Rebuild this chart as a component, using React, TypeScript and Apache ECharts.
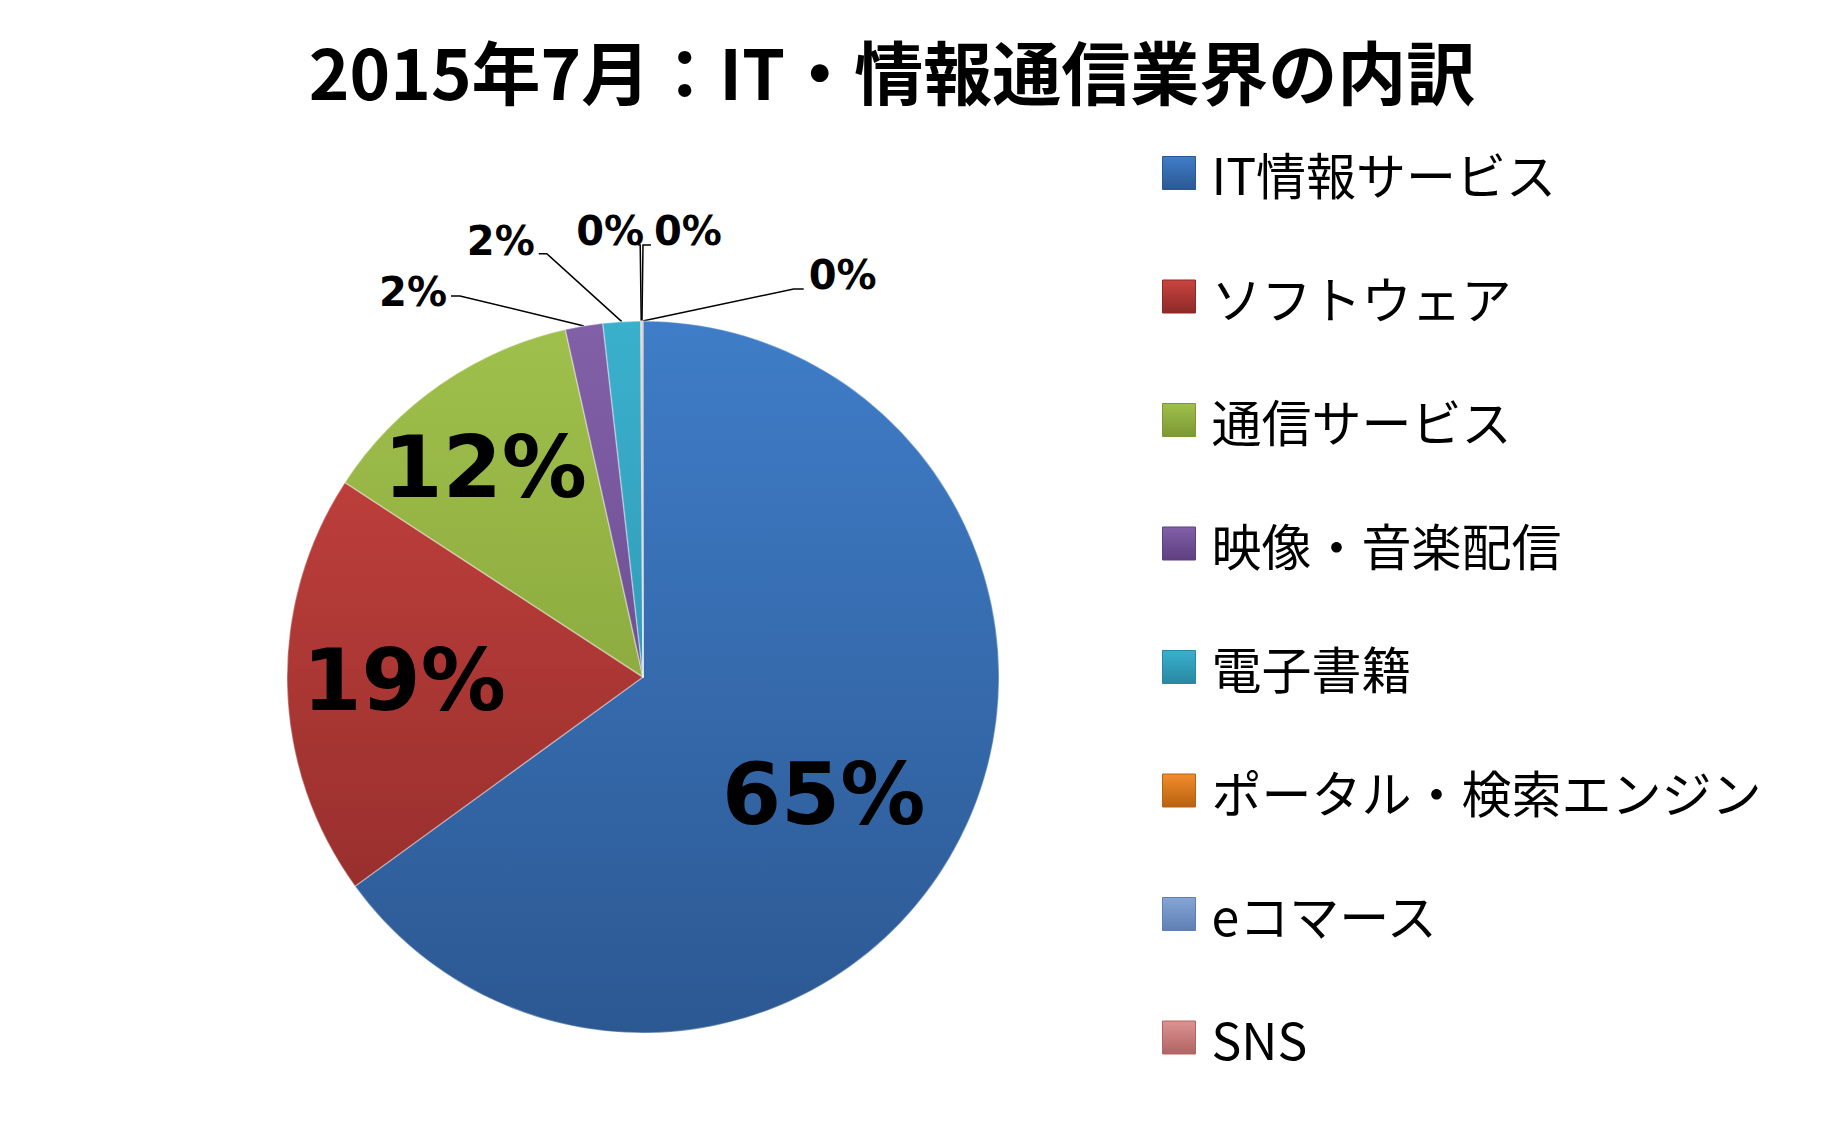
import React, { useEffect, useRef } from "react";
import * as echarts from "echarts";

const TITLE = "2015年7月：IT・情報通信業界の内訳";
const CATEGORIES = [
  "IT情報サービス",
  "ソフトウェア",
  "通信サービス",
  "映像・音楽配信",
  "電子書籍",
  "ポータル・検索エンジン",
  "eコマース",
  "SNS",
];
const SHARES = [65.0, 19.2, 12.3, 1.7, 1.7, 0.04, 0.03, 0.03];
const TOP_COLORS = ["#3F7DC8", "#CA4440", "#A0C04C", "#8160A8", "#3AB0CD", "#F28C2E", "#87A5D6", "#DC9392"];
const BOTTOM_COLORS = ["#2C5892", "#8C2A28", "#7B9833", "#5E3F80", "#2888A3", "#B8620F", "#5F7FB3", "#B06463"];

const CX = 643;
const CY = 677;
const R = 356;
// placement of the big labels: radial scale vs. default inside radius, and rotation (deg)
const INSIDE_PLACE = [
  { scale: 1.19, rot: 6 },
  { scale: 1.32, rot: 0.5 },
  { scale: 1.45, rot: -2.2 },
];
// leader-line / label offsets for the tiny slices, relative to the slice's edge point
const SMALL_OFFSETS = [
  { bx: -124, by: -30, ex: -133, lx: -137, ly: -34, align: "right" },
  { bx: -75, by: -68, ex: -83, lx: -87, ly: -81, align: "right" },
  { bx: -1, by: -76, ex: -3, lx: 3, ly: -90, align: "right" },
  { bx: 1, by: -76, ex: 9, lx: 12, ly: -90, align: "left" },
  { bx: 151, by: -32, ex: 161, lx: 166, ly: -46, align: "left" },
];

export default function App() {
  const ref = useRef<HTMLDivElement>(null);
  useEffect(() => {
    if (!ref.current) return;
    const chart = echarts.init(ref.current, null, { renderer: "svg" });
    const data = CATEGORIES.map((name, i) => {
      const big = i < 3;
      return {
        name,
        value: SHARES[i],
        itemStyle: {
          color: new echarts.graphic.LinearGradient(
            0, CY - R, 0, CY + R,
            [
              { offset: 0, color: TOP_COLORS[i] },
              { offset: 1, color: BOTTOM_COLORS[i] },
            ],
            true
          ),
        },
        label: big
          ? { position: "inside", fontSize: 85 }
          : { position: "outside", fontSize: 40 },
        labelLine: { show: !big },
      };
    });
    const legendData = CATEGORIES.map((name, i) => ({
      name,
      itemStyle: {
        color: new echarts.graphic.LinearGradient(0, 0, 0, 1, [
          { offset: 0, color: TOP_COLORS[i] },
          { offset: 1, color: BOTTOM_COLORS[i] },
        ]),
        borderColor: BOTTOM_COLORS[i],
        borderWidth: 1,
      },
    }));
    chart.setOption({
      animation: false,
      backgroundColor: "#ffffff",
      title: {
        text: TITLE,
        left: 887,
        textAlign: "center",
        top: 30,
        textStyle: {
          fontFamily: "Noto Sans CJK JP",
          fontWeight: "bold",
          fontSize: 69,
          color: "#000000",
        },
      },
      legend: {
        orient: "vertical",
        left: 1162,
        top: 148,
        padding: 0,
        itemWidth: 33,
        itemHeight: 33,
        itemGap: 73.5,
        icon: "rect",
        selectedMode: false,
        data: legendData,
        textStyle: {
          fontFamily: "Noto Sans CJK JP",
          fontSize: 50,
          lineHeight: 50,
          color: "#000000",
          padding: [0, 0, 0, 11],
        },
      },
      series: [
        {
          type: "pie",
          center: [CX, CY],
          radius: [0, R],
          startAngle: 90,
          clockwise: true,
          avoidLabelOverlap: false,
          data,
          itemStyle: {
            borderColor: "rgba(255,255,255,0.35)",
            borderWidth: 1.5,
          },
          label: {
            show: true,
            fontFamily: "DejaVu Sans",
            fontWeight: "bold",
            color: "#000000",
            formatter: (p: any) => Math.round(p.percent) + "%",
          },
          labelLine: {
            show: true,
            length: 30,
            length2: 10,
            lineStyle: { color: "#000000", width: 1.5 },
          },
          labelLayout: (p: any) => {
            const i = p.dataIndex;
            if (i < 3) {
              const r = p.labelRect;
              const lx = r.x + r.width / 2;
              const ly = r.y + r.height / 2;
              const vx = lx - CX;
              const vy = ly - CY;
              const pl = INSIDE_PLACE[i];
              const a = (pl.rot * Math.PI) / 180;
              const nx = (vx * Math.cos(a) - vy * Math.sin(a)) * pl.scale;
              const ny = (vx * Math.sin(a) + vy * Math.cos(a)) * pl.scale;
              return { dx: nx - vx, dy: ny - vy };
            }
            const o = SMALL_OFFSETS[i - 3];
            let ax: number;
            let ay: number;
            if (p.labelLinePoints && p.labelLinePoints[0]) {
              ax = p.labelLinePoints[0][0];
              ay = p.labelLinePoints[0][1];
            } else {
              ax = CX;
              ay = CY - R;
            }
            return {
              x: ax + o.lx,
              y: ay + o.ly,
              align: o.align,
              verticalAlign: "middle",
              labelLinePoints: [
                [ax, ay],
                [ax + o.bx, ay + o.by],
                [ax + o.ex, ay + o.by],
              ],
            };
          },
        },
      ],
    });
    return () => chart.dispose();
  }, []);
  return (
    <div
      ref={ref}
      style={{ position: "fixed", left: 0, top: 0, width: 1840, height: 1129 }}
    />
  );
}
